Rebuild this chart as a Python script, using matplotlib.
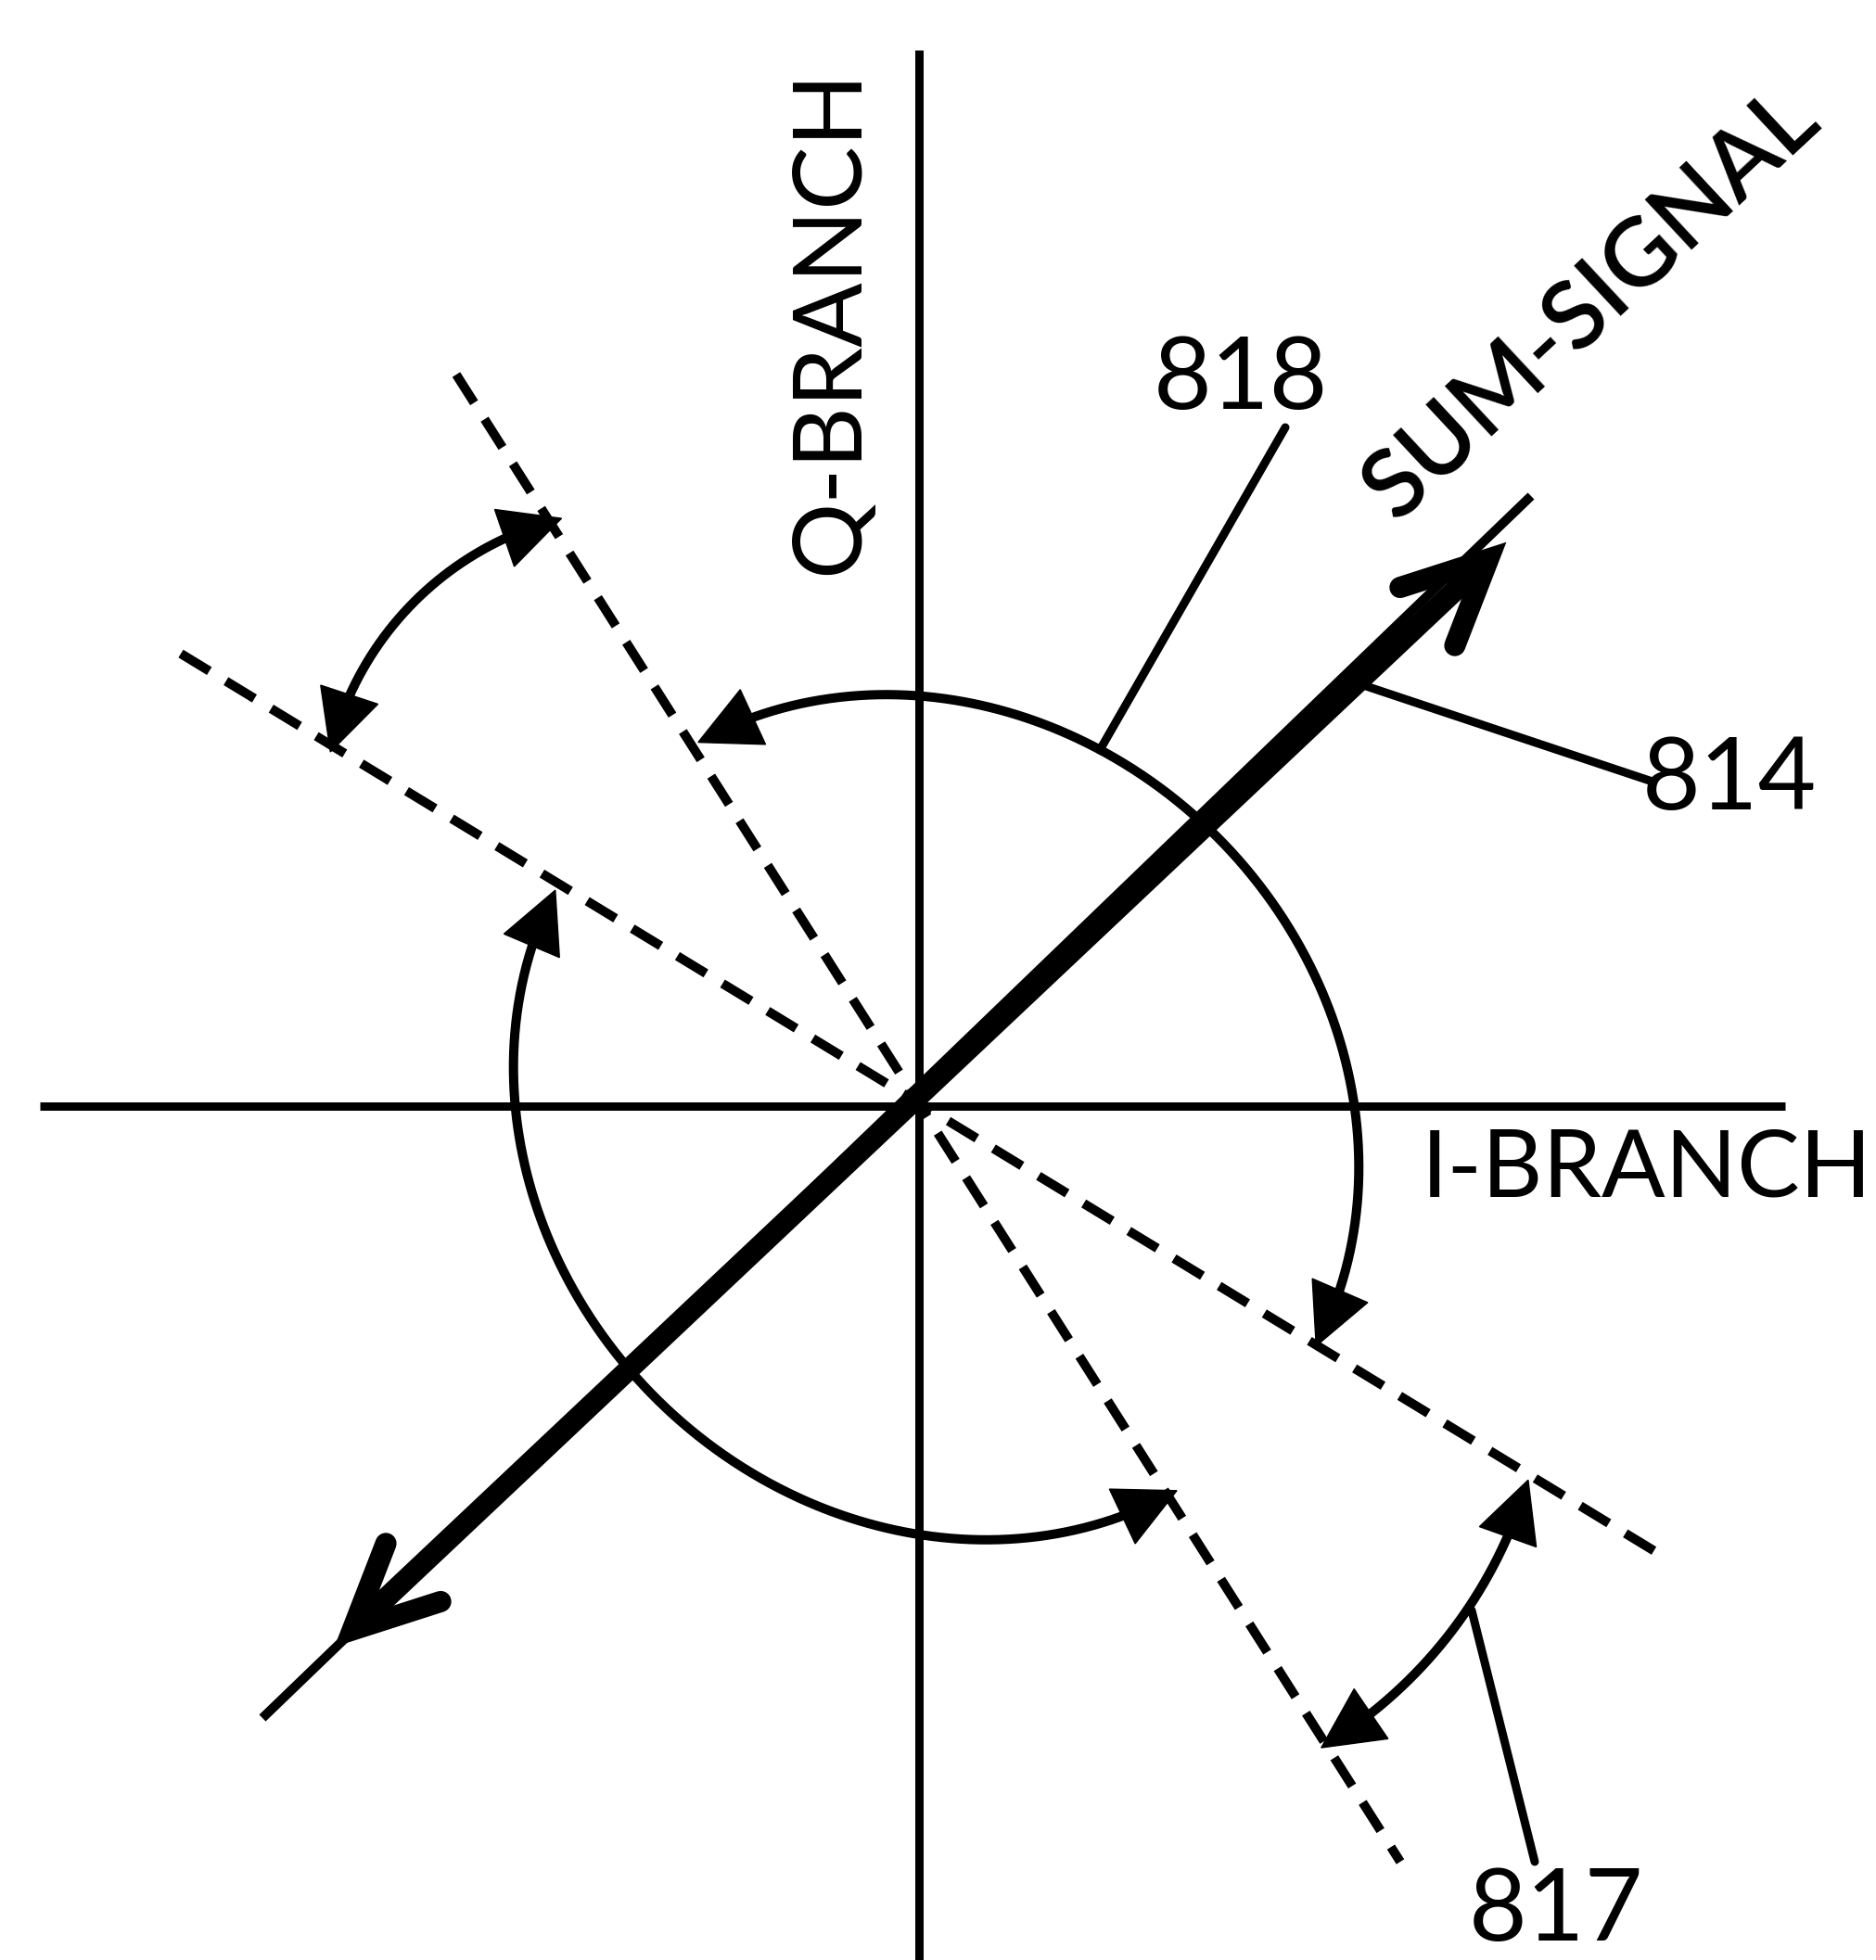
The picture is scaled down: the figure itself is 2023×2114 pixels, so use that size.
import numpy as np
import matplotlib
matplotlib.use("Agg")
import matplotlib.pyplot as plt
from matplotlib.patches import Polygon

# ---------------- geometry (pixel coords, y down) ----
FIG_W, FIG_H = 2023, 2114
DPI = 100
PT = 72.0 / DPI          # points per pixel

q_axis = [(991, 54), (991, 2114)]
i_axis = [(43, 1193), (1925, 1193)]
sum_thin = [(283, 1853), (1651, 535)]
sum_thick = [(380, 1758), (1605, 603)]      # tips of the double arrow
dash_a = [(492, 404), (1510, 2008)]
dash_b = [(195, 705), (1799, 1682)]

# outer (elliptic) arcs, polar angle ranges in degrees (image coords)
big_center = (1009.5, 1205)
big_axes = (482, 428)          # semi-major / semi-minor
big_tilt = 45
outer_arc_1 = (-122.4, 31.05)
outer_arc_2 = (57.2, 210.8)

# small circular arcs
small_ul = dict(center=(688, 890), r=341, ang=(-104.0, -166.6))
small_lr = dict(center=(1168, 1456), r=500, ang=(16.3, 59.1))

leader_818 = [(1386, 461), (1186, 809)]
leader_814 = [(1473, 740), (1779, 842)]
leader_817 = [(1587, 1737), (1655, 2008)]

labels = ["Q-BRANCH", "I-BRANCH", "SUM-SIGNAL", "818", "814", "817"]
label_pos = [(896, 347), (1776, 1262), (1716, 328), (1338, 411), (1865, 843), (1678, 2063)]
label_rot = [90, 0, 43, 0, 0, 0]
label_size = [74, 73, 74, 78, 78, 78]

# ---------------- drawing ----------------------------------------------------
fig = plt.figure(figsize=(FIG_W / DPI, FIG_H / DPI), dpi=DPI)
ax = fig.add_axes([0, 0, 1, 1])
ax.set_xlim(0, FIG_W)
ax.set_ylim(FIG_H, 0)
ax.axis("off")

K = "black"


def seg(p, lw_px, **kw):
    xs, ys = zip(*p)
    ax.plot(xs, ys, color=K, lw=lw_px * PT, **kw)


def ellipse_pts(c, axes, tilt, a0, a1, n=600):
    phi = np.radians(np.linspace(a0, a1, n))
    a, b = axes
    t = np.radians(tilt)
    r = a * b / np.sqrt((b * np.cos(phi - t)) ** 2 + (a * np.sin(phi - t)) ** 2)
    return np.column_stack([c[0] + r * np.cos(phi), c[1] + r * np.sin(phi)])


def circle_pts(c, r, a0, a1, n=400):
    phi = np.radians(np.linspace(a0, a1, n))
    return np.column_stack([c[0] + r * np.cos(phi), c[1] + r * np.sin(phi)])


def head(tip, back, L=65, Wd=65):
    d = np.asarray(tip) - np.asarray(back)
    d = d / np.hypot(*d)
    nrm = np.array([-d[1], d[0]])
    b = np.asarray(tip) - d * L
    poly = [tip, b + nrm * Wd / 2, b - nrm * Wd / 2]
    ax.add_patch(Polygon(poly, closed=True, facecolor=K, edgecolor=K, lw=1))


def double_arrow_curve(pts, lw_px=10, L=65, Wd=65):
    s = np.concatenate([[0], np.cumsum(np.hypot(*np.diff(pts, axis=0).T))])
    i0 = np.searchsorted(s, L * 0.9)
    i1 = np.searchsorted(s, s[-1] - L * 0.9)
    ax.plot(pts[i0:i1 + 1, 0], pts[i0:i1 + 1, 1], color=K, lw=lw_px * PT,
            solid_capstyle="butt")
    head(pts[0], pts[i0], L, Wd)
    head(pts[-1], pts[i1], L, Wd)


# axes
seg(q_axis, 9, solid_capstyle="butt")
seg(i_axis, 9, solid_capstyle="butt")

# dashed lines
for dl in (dash_a, dash_b):
    seg(dl, 10, linestyle=(0, (3.6, 2.1)), dash_capstyle="butt")

# sum-signal thin line and thick double arrow
seg(sum_thin, 10, solid_capstyle="butt")
seg(sum_thick, 23, solid_capstyle="butt")
p0, p1 = np.array(sum_thick[0], float), np.array(sum_thick[1], float)
for tip, other in ((p1, p0), (p0, p1)):
    back = (other - tip) / np.hypot(*(other - tip))
    ends = []
    for sgn in (1, -1):
        a = np.radians(25.5) * sgn
        rot = np.array([[np.cos(a), -np.sin(a)], [np.sin(a), np.cos(a)]])
        ends.append(tip + rot @ back * 100)
    chev = np.array([ends[0], tip, ends[1]])
    ax.plot(chev[:, 0], chev[:, 1], color=K, lw=23 * PT,
            solid_capstyle="round", solid_joinstyle="miter")

# outer arcs (elliptic)
for a0, a1 in (outer_arc_1, outer_arc_2):
    double_arrow_curve(ellipse_pts(big_center, big_axes, big_tilt, a0, a1))

# small arcs
for sa in (small_ul, small_lr):
    double_arrow_curve(circle_pts(sa["center"], sa["r"], *sa["ang"]))

# leader lines
for ld in (leader_818, leader_814, leader_817):
    seg(ld, 9, solid_capstyle="round")

# labels
for txt, pos, rot, size in zip(labels, label_pos, label_rot, label_size):
    weight = "semibold" if txt == "SUM-SIGNAL" else "normal"
    ax.text(pos[0], pos[1], txt, rotation=rot, rotation_mode="anchor",
            ha="center", va="center", fontsize=size, fontweight=weight,
            family=["Lato", "DejaVu Sans"], color=K)

fig.savefig("out.png", dpi=DPI, facecolor="white")
